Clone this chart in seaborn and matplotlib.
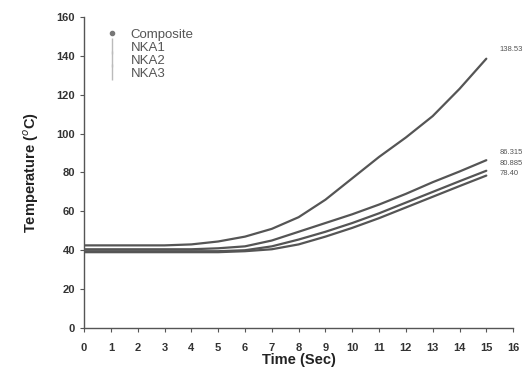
import numpy as np
import pandas as pd
import matplotlib
matplotlib.use("Agg")
import matplotlib.pyplot as plt
import seaborn as sns
from matplotlib.lines import Line2D

# data ----
time_sec = list(range(0, 16))
composite = [42.5, 42.5, 42.5, 42.5, 43, 44.5, 47, 51, 57, 66, 77, 88, 98, 109, 123, 138.53]
nka1 = [40.5, 40.5, 40.5, 40.5, 40.5, 41, 42, 45, 49.5, 54, 58.5, 63.5, 69, 75, 80.5, 86.315]
nka2 = [39.5, 39.5, 39.5, 39.5, 39.5, 39.5, 40, 42, 45.5, 49.5, 54, 59, 64.5, 70, 75.5, 80.885]
nka3 = [39, 39, 39, 39, 39, 39, 39.5, 40.5, 43, 47, 51.5, 56.5, 62, 67.5, 73, 78.4]
series_names = ['Composite', 'NKA1', 'NKA2', 'NKA3']
end_labels = ['138.53', '86.315', '80.885', '78.40']

df = pd.DataFrame({'time': time_sec * 4,
                   'temp': composite + nka1 + nka2 + nka3,
                   'sample': sum([[n] * len(time_sec) for n in series_names], [])})

sns.set_style('ticks')
plt.rcParams['font.family'] = ['Liberation Sans', 'DejaVu Sans']

fig = plt.figure(figsize=(5.29, 3.77), dpi=100)
ax = fig.add_axes([0.159, 0.13, 0.811, 0.825])

line_col = '#555555'
sns.lineplot(data=df, x='time', y='temp', hue='sample', palette=[line_col] * 4,
             linewidth=1.6, legend=False, ax=ax)

# value labels at the line ends
end_offsets = [4.5, 4, 3.7, 1]
for name, lab, off in zip(series_names, end_labels, end_offsets):
    y_end = df[df['sample'] == name]['temp'].iloc[-1]
    ax.text(15.5, y_end + off, lab, fontsize=5.5, color='#555555', va='center')

ax.set_xlim(0, 16)
ax.set_ylim(0, 160)
ax.set_xticks(range(0, 17))
ax.set_yticks(range(0, 161, 20))
ax.tick_params(axis='both', labelsize=8, length=3, width=0.8, color='#555555', labelcolor='#333333')
ax.tick_params(axis='x', pad=8)
for lbl in ax.get_xticklabels() + ax.get_yticklabels():
    lbl.set_fontweight('bold')
ax.set_xlabel('Time (Sec)', fontsize=10.5, fontweight='bold', labelpad=0, color='#222222')
ax.set_ylabel('Temperature ($^{o}$C)', fontsize=10.5, fontweight='bold', labelpad=11, color='#222222')
for s in ['left', 'bottom']:
    ax.spines[s].set_color('#555555')
    ax.spines[s].set_linewidth(1.0)
sns.despine(ax=ax)

handles = [Line2D([], [], color='#777777', marker='.', linestyle='none', markersize=6)]
handles += [Line2D([], [], color='#bbbbbb', marker='|', linestyle='none', markersize=11) for _ in range(3)]
ax.legend(handles, series_names, loc='upper left', bbox_to_anchor=(0.025, 1.0), frameon=False,
          fontsize=9.5, handlelength=0.8, handletextpad=1.0, labelspacing=0.05, labelcolor='#555555')

fig.savefig('out.png', dpi=100)
